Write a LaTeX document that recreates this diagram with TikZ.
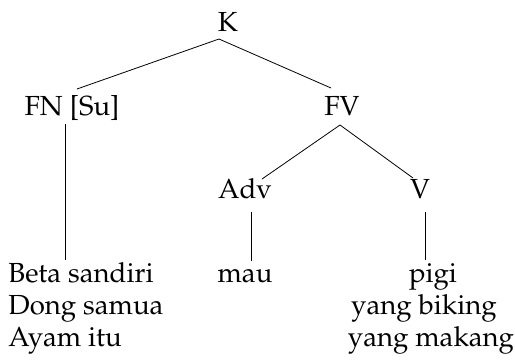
\documentclass[tikz,border=0pt]{standalone}
\usepackage[T1]{fontenc}
\usepackage{mathpazo}
\usetikzlibrary{calc}

\begin{document}
\begin{tikzpicture}[x=0.5pt,y=-0.5pt,
    cat/.style={inner sep=0pt,anchor=base,font=\fontsize{13.8}{16}\selectfont},
    word/.style={inner sep=0pt,font=\fontsize{13.8}{16}\selectfont}
]
\useasboundingbox (0,0) rectangle (515,360);

% Categories
\node[cat] (K) at (228,31){K};
\node[cat] (fn) at (72,115){FN [Su]};
\node[cat] (fv) at (342,115){FV};
\node[cat] (adv) at (245,198){Adv};
\node[cat] (v) at (420,198){V};

% Words
\node[word,anchor=base west] (beta) at (8,282){Beta sandiri};
\node[word,anchor=base west] (dong) at (8,314){Dong samua};
\node[word,anchor=base west] (ayam) at (8,346){Ayam itu};
\node[word,anchor=base] (mau) at (245,282){mau};
\node[word,anchor=base] (pigi) at (433,282){pigi};
\node[word,anchor=base] (biking) at (424,314){yang biking};
\node[word,anchor=base] (makang) at (431,346){yang makang};

% Branches
 \draw ($(K.base)+(-9,8)$)--($(fn.base)+(5,-26)$);
 \draw ($(K.base)+(-9,8)$)--($(fv.base)+(-11,-27)$);
 \draw ($(fv.base)+(-2,10)$)--($(adv.base)+(17,-19)$);
 \draw ($(fv.base)+(-2,10)$)--($(v.base)+(-7,-20)$);
 \draw ($(fn.base)+(-7,9)$)--($(beta.base west)+(57,-22)$);
 \draw ($(adv.base)+(6,14)$)--($(mau.base)+(6,-21)$);
 \draw ($(v.base)+(5,14)$)--($(pigi.base)+(-8,-22)$);

\end{tikzpicture}
\end{document}
